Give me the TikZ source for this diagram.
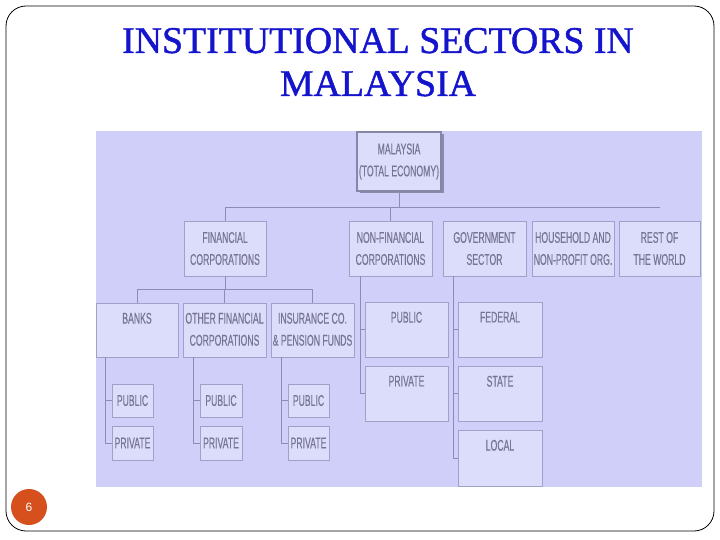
\documentclass[tikz,border=0pt]{standalone}
\usepackage{fontspec}
\setmainfont{Liberation Serif}
\newfontfamily\titlefont[FakeBold=1.2]{Liberation Serif}
\newfontfamily\boxfont[FakeStretch=0.56,FakeBold=0.3]{Liberation Sans}
\newfontfamily\numfont{Liberation Sans}
\usetikzlibrary{calc,shadows}
\definecolor{titleblue}{RGB}{20,20,205}
\definecolor{panelbg}{RGB}{207,207,250}
\definecolor{boxfill}{RGB}{220,220,251}
\definecolor{boxline}{RGB}{160,160,200}
\definecolor{connline}{RGB}{140,140,180}
\definecolor{boxtext}{RGB}{118,118,148}
\definecolor{mainline}{RGB}{135,135,165}
\definecolor{shadowc}{RGB}{140,140,170}
\definecolor{pagecirc}{RGB}{214,80,30}
\begin{document}
\begin{tikzpicture}[x=1pt,y=-1pt,
  boxfontsty/.style={font=\boxfont\fontsize{15.5}{22}\selectfont, text=boxtext},
  box/.style={draw=boxline, fill=boxfill, line width=0.8pt, inner sep=0pt, align=center, boxfontsty},
  malbox/.style={draw=mainline, line width=1.6pt, drop shadow={shadow xshift=2.5pt, shadow yshift=-2.5pt, fill=shadowc, opacity=1}},
  toplabel/.style={label={[boxfontsty, align=center, inner sep=0pt, anchor=north, yshift=-10pt]north:{#1}}},
  conn/.style={draw=connline, line width=1pt},
  frame/.style={draw=black, line width=0.8pt, rounded corners=20pt}]
\useasboundingbox (0,0) rectangle (720,540);
\fill[white] (0,0) rectangle (720,540);
\draw[frame] (6,6) rectangle (714,531);
\node[anchor=base, align=center, text=titleblue, font=\titlefont\fontsize{37.8}{43}\selectfont, inner sep=0pt] (title) at (378,96) {INSTITUTIONAL SECTORS IN\\MALAYSIA};
\fill[panelbg] (96,131) rectangle (702,487);
% top
\node[box, malbox, minimum width=84pt, minimum height=59pt] (mal) at (399,161.5) {MALAYSIA\\(TOTAL ECONOMY)};
% level 2
\node[box, minimum width=82pt, minimum height=55pt] (fin) at (225,248.5) {FINANCIAL\\CORPORATIONS};
\node[box, minimum width=83pt, minimum height=55pt] (nonfin) at (390.5,248.5) {NON-FINANCIAL\\CORPORATIONS};
\node[box, minimum width=83pt, minimum height=55pt] (gov) at (484.5,248.5) {GOVERNMENT\\SECTOR};
\node[box, minimum width=82pt, minimum height=55pt] (hh) at (573,248.5) {HOUSEHOLD AND\\NON-PROFIT ORG.};
\node[box, minimum width=81pt, minimum height=55pt] (row) at (659.5,248.5) {REST OF\\THE WORLD};
% level 3 financial
\node[box, minimum width=82pt, minimum height=54pt, toplabel={BANKS}] (banks) at (137,330) {};
\node[box, minimum width=83pt, minimum height=54pt, toplabel={OTHER FINANCIAL\\CORPORATIONS}] (ofc) at (224.5,330) {};
\node[box, minimum width=83pt, minimum height=54pt, toplabel={INSURANCE CO.\\\& PENSION FUNDS}] (ins) at (312.5,330) {};
% non-financial
\node[box, minimum width=83pt, minimum height=55pt, toplabel={PUBLIC}] (nfpub) at (406.5,329.5) {};
\node[box, minimum width=83pt, minimum height=55pt, toplabel={PRIVATE}] (nfpriv) at (406.5,393.5) {};
% government
\node[box, minimum width=84pt, minimum height=55pt, toplabel={FEDERAL}] (federal) at (500,329.5) {};
\node[box, minimum width=84pt, minimum height=55pt, toplabel={STATE}] (state) at (500,393.5) {};
\node[box, minimum width=84pt, minimum height=56pt, toplabel={LOCAL}] (local) at (500,458) {};
% small boxes
\node[box, minimum width=41pt, minimum height=33pt] (bpub) at (132.5,400.5) {PUBLIC};
\node[box, minimum width=41pt, minimum height=34pt] (bpriv) at (132.5,443) {PRIVATE};
\node[box, minimum width=42pt, minimum height=33pt] (opub) at (221,400.5) {PUBLIC};
\node[box, minimum width=42pt, minimum height=34pt] (opriv) at (221,443) {PRIVATE};
\node[box, minimum width=41pt, minimum height=33pt] (ipub) at (308.5,400.5) {PUBLIC};
\node[box, minimum width=41pt, minimum height=34pt] (ipriv) at (308.5,443) {PRIVATE};
% page number
\node[circle, fill=pagecirc, minimum size=36pt, inner sep=0pt, text=white, font=\numfont\fontsize{12}{14}\selectfont] (pg) at (29,507) {6};
% connectors
\coordinate (bus1) at (0,208);
\coordinate (bus2) at (0,289);
\draw[conn] (mal.south) -- (mal.south |- bus1);
\draw[conn] (fin.north |- bus1) -- (row.north |- bus1);
\draw[conn] (fin.north) -- (fin.north |- bus1);
\draw[conn] (nonfin.north) -- (nonfin.north |- bus1);
\draw[conn] (fin.south) -- (fin.south |- bus2);
\draw[conn] (banks.north |- bus2) -- (ins.north |- bus2);
\draw[conn] (banks.north) -- (banks.north |- bus2);
\draw[conn] (ofc.north) -- (ofc.north |- bus2);
\draw[conn] (ins.north) -- (ins.north |- bus2);
\draw[conn] (bpriv.west) -| ($(banks.south west)+(10,0)$);
\draw[conn] (bpub.west) -- ++(-6,0);
\draw[conn] (opriv.west) -| ($(ofc.south west)+(11,0)$);
\draw[conn] (opub.west) -- ++(-6,0);
\draw[conn] (ipriv.west) -| ($(ins.south west)+(11,0)$);
\draw[conn] (ipub.west) -- ++(-6,0);
\draw[conn] (nfpriv.west) -| ($(nonfin.south west)+(12,0)$);
\draw[conn] (nfpub.west) -- ++(-4,0);
\draw[conn] (local.west) -| ($(gov.south west)+(11,0)$);
\draw[conn] (federal.west) -- ++(-4,0);
\draw[conn] (state.west) -- ++(-4,0);
\end{tikzpicture}
\end{document}
